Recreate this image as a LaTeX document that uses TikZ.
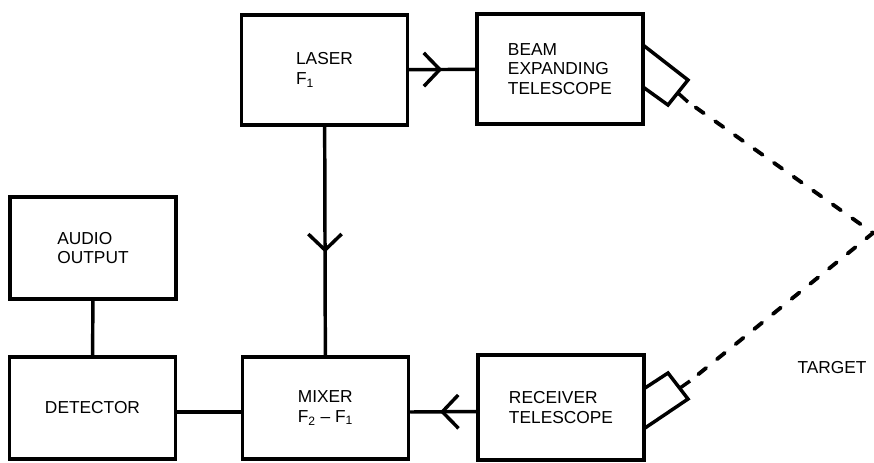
\documentclass[tikz,border=0pt]{standalone}
\usepackage{fontspec}
\setmainfont{Liberation Sans}
\usetikzlibrary{arrows.meta,decorations.markings}

\begin{document}
\begin{tikzpicture}[x=0.75pt, y=-0.75pt, line width=2.6pt,
	every node/.style={font=\fontsize{13}{14.5}\selectfont},
	unit/.style={draw, line width=2.6pt, align=left, inner sep=0pt, minimum width=124.5pt, minimum height=#1},
	midarrow/.style={decoration={markings, mark=at position #1 with {\arrow{Straight Barb[length=12pt,width=25pt]}}}, postaction={decorate}},
	ray/.style={line width=2.9pt, line cap=round, dash pattern=on 7.5pt off 10.5pt, dash phase=11pt}]
	\useasboundingbox (0,0) rectangle (874,462);
	\node[unit=82.5pt] (laser) at (324.5,70) {LASER\\F\textsubscript{1}};
	\node[unit=82.5pt] (beam) at (560,69) {BEAM\\EXPANDING\\TELESCOPE};
	\node[unit=76.5pt] (audio) at (93,248) {AUDIO\\OUTPUT};
	\node[unit=76.5pt] (detector) at (92.5,408) {DETECTOR};
	\node[unit=76.5pt] (mixer) at (325.5,408) {MIXER\\F\textsubscript{2} -- F\textsubscript{1}};
	\node[unit=78.75pt] (receiver) at (561,407.5) {RECEIVER\\TELESCOPE};
	\node (target) at (832,368) {TARGET};
	\coordinate (apex) at (873,233);
	\draw[midarrow=0.5] (laser) -- (beam);
	\draw[midarrow=0.55] (laser) -- (mixer);
	\draw (audio) -- (detector);
	\draw ([yshift=-3pt]detector.east) -- ([yshift=-3pt]mixer.west);
	\draw[midarrow=0.55] ([yshift=-3pt]receiver.west) -- ([yshift=-3pt]mixer.east);
	\draw (643,45) -- (688,80) -- (668,105) -- (643,87);
	\draw (678,93) -- (688,102) coordinate (beamout);
	\draw (645,388) -- (668,373) -- (688,399) -- (645,428);
	\draw (680,388) -- (690,381) coordinate (recvin);
	\draw[ray] (beamout) -- (apex) -- (recvin);
\end{tikzpicture}
\end{document}
